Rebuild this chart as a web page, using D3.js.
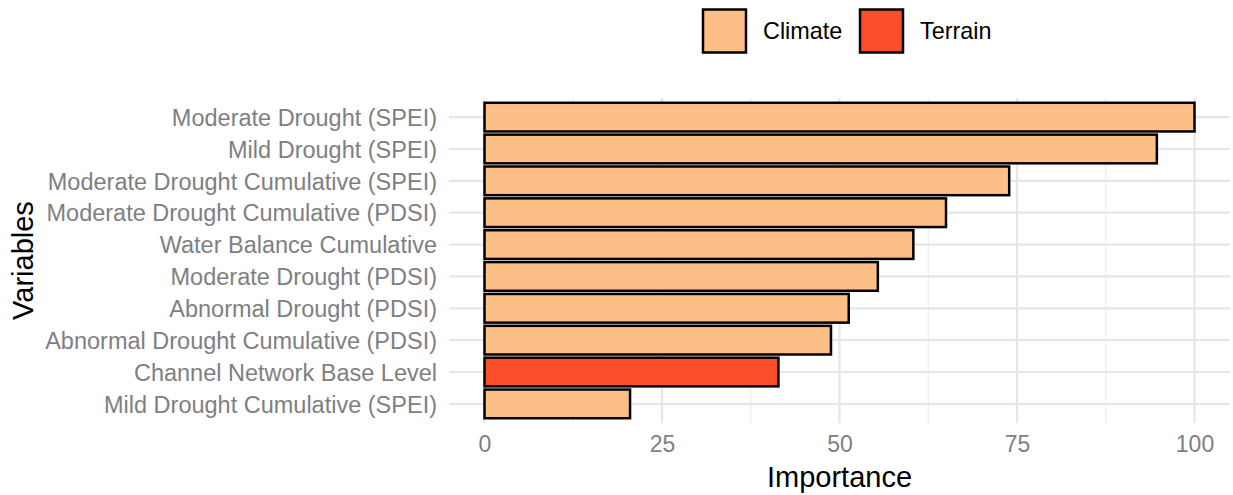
<!DOCTYPE html>
<html><head><meta charset="utf-8">
<script src="https://cdn.jsdelivr.net/npm/d3@7"></script>
<style>body{margin:0;background:#fff}svg{display:block;font-family:"Liberation Sans",Arial,sans-serif}</style>
</head><body><svg id="c" width="1233" height="495"></svg>
<script>
const categories = ["Moderate Drought (SPEI)","Mild Drought (SPEI)","Moderate Drought Cumulative (SPEI)","Moderate Drought Cumulative (PDSI)","Water Balance Cumulative","Moderate Drought (PDSI)","Abnormal Drought (PDSI)","Abnormal Drought Cumulative (PDSI)","Channel Network Base Level","Mild Drought Cumulative (SPEI)"];
const values = [100, 94.7, 73.9, 65.0, 60.4, 55.4, 51.3, 48.8, 41.4, 20.5];
const groups = ["Climate","Climate","Climate","Climate","Climate","Climate","Climate","Climate","Terrain","Climate"];
const legendLabels = ["Climate","Terrain"];
const xTicks = [0,25,50,75,100];
const xMinor = [12.5,37.5,62.5,87.5];

const svg = d3.select("#c");
const color = d3.scaleOrdinal().domain(legendLabels).range(["#FDBF86","#FC4E2B"]);
const L = 449, R = 1230, T = 98, B = 423;
const x = d3.scaleLinear().domain([-5,105]).range([L,R]);
const yc = d3.scalePoint().domain(categories).range([T,B]).padding(0.6);
const step = yc.step();
const bw = step*0.9;

const g = svg.append("g");
g.selectAll(".mn").data(xMinor).join("line").attr("x1",d=>x(d)).attr("x2",d=>x(d)).attr("y1",T).attr("y2",B).attr("stroke","#EBEBEB").attr("stroke-width",1.1);
g.selectAll(".mj").data(xTicks).join("line").attr("x1",d=>x(d)).attr("x2",d=>x(d)).attr("y1",T).attr("y2",B).attr("stroke","#E6E6E6").attr("stroke-width",2.2);
g.selectAll(".hy").data(categories).join("line").attr("x1",L).attr("x2",R).attr("y1",d=>yc(d)).attr("y2",d=>yc(d)).attr("stroke","#E6E6E6").attr("stroke-width",2.2);

g.selectAll(".bar").data(categories).join("rect")
 .attr("x",x(0)).attr("y",d=>yc(d)-bw/2)
 .attr("width",(d,i)=>x(values[i])-x(0)).attr("height",bw)
 .attr("fill",(d,i)=>color(groups[i])).attr("stroke","#000").attr("stroke-width",2.5);

const xa = svg.append("g").attr("transform",`translate(0,${B+5})`).call(d3.axisBottom(x).tickValues(xTicks).tickSize(0).tickPadding(8));
xa.select(".domain").remove();
xa.selectAll("text").attr("fill","#7F7F7F").style("font-size","23px");
const ya = svg.append("g").attr("transform",`translate(${L-8},0)`).call(d3.axisLeft(yc).tickSize(0).tickPadding(4));
ya.select(".domain").remove();
ya.selectAll("text").attr("fill","#7F7F7F").style("font-size","23.5px").attr("dy","0.35em");

svg.append("text").attr("x",x(50)).attr("y",487).attr("text-anchor","middle").style("font-size","29px").attr("fill","#000").text("Importance");
svg.append("text").attr("transform",`translate(33,${(T+B)/2}) rotate(-90)`).attr("text-anchor","middle").style("font-size","29px").attr("fill","#000").text("Variables");

const lx = [703, 860];
const lg = svg.append("g");
lg.selectAll("rect").data(legendLabels).join("rect").attr("x",(d,i)=>lx[i]).attr("y",9.5).attr("width",43).attr("height",43).attr("fill",d=>color(d)).attr("stroke","#000").attr("stroke-width",2.5);
lg.selectAll("text").data(legendLabels).join("text").attr("x",(d,i)=>lx[i]+60).attr("y",31).attr("dy","0.35em").style("font-size","23.4px").attr("fill","#000").text(d=>d);
</script></body></html>
